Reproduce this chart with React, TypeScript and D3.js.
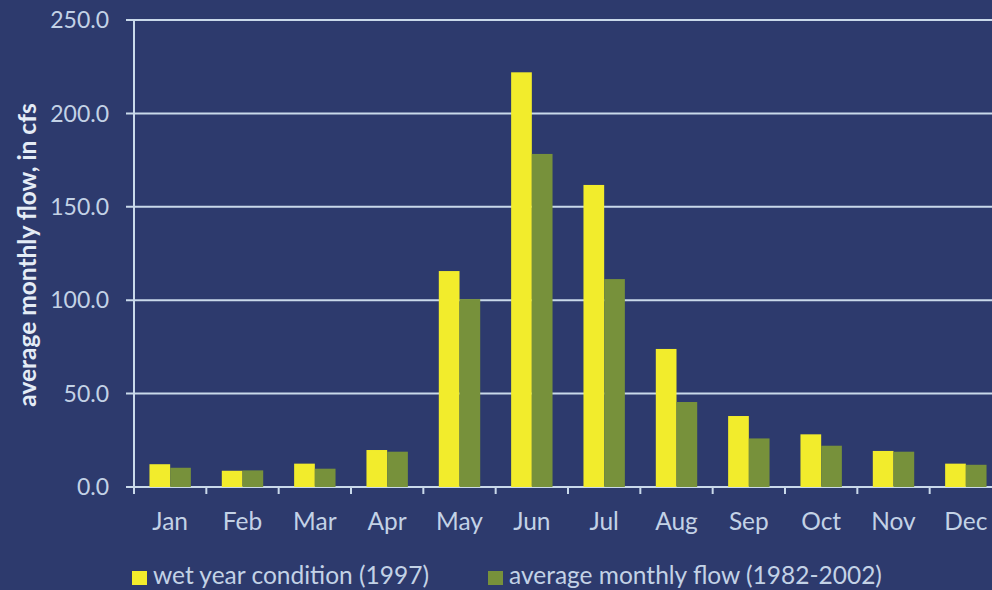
import React, { useEffect, useRef } from "react";
import * as d3 from "d3";

const months = ["Jan", "Feb", "Mar", "Apr", "May", "Jun", "Jul", "Aug", "Sep", "Oct", "Nov", "Dec"];
const wetYear = [12.2, 8.7, 12.5, 19.8, 115.6, 222.0, 161.7, 73.9, 38.0, 28.2, 19.3, 12.5];
const avgFlow = [10.3, 8.9, 9.8, 18.9, 100.6, 178.3, 111.3, 45.5, 26.0, 22.1, 18.9, 11.9];
const yTicks = [0, 50, 100, 150, 200, 250];
const seriesNames = ["wet year condition (1997)", "average monthly flow (1982-2002)"];

const W = 992;
const H = 590;
const BG = "#2d3a6d";
const LINE = "#c9d9ea";
const TEXT = "#c3d2e6";
const YELLOW = "#f2ec2c";
const GREEN = "#77913b";
const FONT = "Lato, 'Open Sans', sans-serif";

export default function App() {
  const ref = useRef<SVGSVGElement>(null);

  useEffect(() => {
    const svg = d3.select(ref.current!);
    svg.selectAll("*").remove();

    svg.append("rect").attr("width", W).attr("height", H).attr("fill", BG);

    const x = d3.scaleBand<string>().domain(months).range([134, 1002]);
    const y = d3.scaleLinear().domain([0, 250]).range([487, 20]);
    const barW = 20.7;

    // gridlines
    svg
      .append("g")
      .selectAll("line")
      .data(yTicks)
      .join("line")
      .attr("x1", 126)
      .attr("x2", W)
      .attr("y1", (d) => y(d))
      .attr("y2", (d) => y(d))
      .attr("stroke", LINE)
      .attr("stroke-width", 2);

    // y axis line
    svg
      .append("line")
      .attr("x1", 134)
      .attr("x2", 134)
      .attr("y1", y(250))
      .attr("y2", y(0) + 7)
      .attr("stroke", LINE)
      .attr("stroke-width", 2);

    // x ticks
    svg
      .append("g")
      .selectAll("line")
      .data(months)
      .join("line")
      .attr("x1", (d) => x(d)!)
      .attr("x2", (d) => x(d)!)
      .attr("y1", y(0))
      .attr("y2", y(0) + 7)
      .attr("stroke", LINE)
      .attr("stroke-width", 2);

    // y tick labels
    svg
      .append("g")
      .selectAll("text")
      .data(yTicks)
      .join("text")
      .attr("x", 109)
      .attr("y", (d) => y(d))
      .attr("dy", "0.36em")
      .attr("text-anchor", "end")
      .attr("fill", TEXT)
      .attr("font-family", FONT)
      .attr("font-size", 23)
      .text((d) => d.toFixed(1));

    // bars
    const g = svg.append("g");
    [wetYear, avgFlow].forEach((vals, si) => {
      g.append("g")
        .attr("fill", si === 0 ? YELLOW : GREEN)
        .selectAll("rect")
        .data(vals)
        .join("rect")
        .attr("x", (_, i) => x(months[i])! + x.bandwidth() / 2 - barW + si * barW)
        .attr("y", (d) => y(d))
        .attr("width", barW)
        .attr("height", (d) => y(0) - y(d));
    });

    // x labels
    svg
      .append("g")
      .selectAll("text")
      .data(months)
      .join("text")
      .attr("x", (d) => x(d)! + x.bandwidth() / 2)
      .attr("y", 530)
      .attr("text-anchor", "middle")
      .attr("fill", TEXT)
      .attr("font-family", FONT)
      .attr("font-size", 24.5)
      .text((d) => d);

    // y axis title
    svg
      .append("text")
      .attr("transform", "translate(36,255) rotate(-90)")
      .attr("text-anchor", "middle")
      .attr("fill", "#e4ecf6")
      .attr("font-family", FONT)
      .attr("font-weight", 700)
      .attr("font-size", 24.5)
      .text("average monthly flow, in cfs");

    // legend
    const legendX = [132, 488];
    seriesNames.forEach((name, i) => {
      svg
        .append("rect")
        .attr("x", legendX[i])
        .attr("y", 571)
        .attr("width", 15)
        .attr("height", 14)
        .attr("fill", i === 0 ? YELLOW : GREEN);
      svg
        .append("text")
        .attr("x", legendX[i] + 21)
        .attr("y", 584)
        .attr("fill", TEXT)
        .attr("font-family", FONT)
        .attr("font-size", 24.5)
        .text(name);
    });
  }, []);

  return (
    <svg
      ref={ref}
      width={W}
      height={H}
      style={{ display: "block", position: "fixed", left: 0, top: 0 }}
    />
  );
}
